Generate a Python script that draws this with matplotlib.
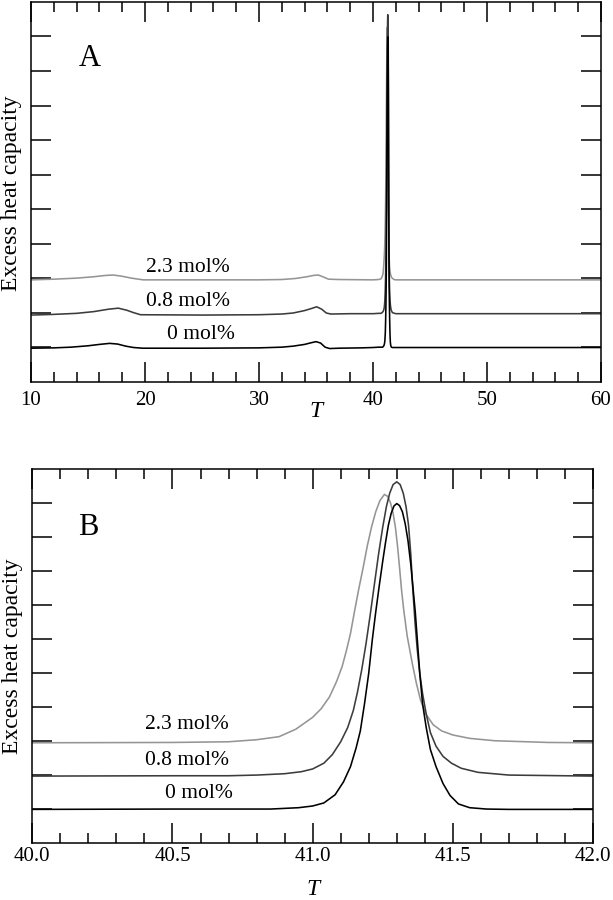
import matplotlib
matplotlib.use("Agg")
import matplotlib.pyplot as plt
from matplotlib.ticker import MultipleLocator

plt.rcParams['font.family'] = ['Liberation Serif', 'DejaVu Serif']

# ---- data (T, excess heat capacity in offset units) ----
T_0 = [10.0, 12.0, 13.5, 15.0, 16.0, 16.9, 17.6, 18.3, 19.0, 19.8, 25.0, 30.0,
       32.0, 33.0, 34.0, 34.6, 35.0, 35.4, 35.8, 36.2, 37.0, 39.0,
       40.0, 40.5, 40.85, 40.95, 41.0, 41.04, 41.08, 41.11, 41.135, 41.155,
       41.17, 41.185, 41.2, 41.213, 41.225, 41.238, 41.25, 41.26, 41.27, 41.28,
       41.29, 41.3, 41.31, 41.32, 41.33, 41.34, 41.35, 41.358, 41.366, 41.374,
       41.382, 41.392, 41.405, 41.42, 41.44, 41.465, 41.49, 41.52, 41.56, 41.62,
       41.7, 42.0, 45.0, 50.0, 55.0, 60.0]
C_0 = [0.97, 0.98, 1.0, 1.04, 1.08, 1.11, 1.09, 1.03, 0.99, 0.97, 0.97, 0.98,
       1.0, 1.03, 1.08, 1.13, 1.16, 1.12, 1.0, 0.96, 0.97, 0.98,
       0.99, 1.0, 1.0, 1.04, 1.09, 1.18, 1.42, 1.8, 2.25, 2.8,
       3.3, 4.1, 5.0, 6.0, 6.8, 7.6, 8.3, 8.85, 9.35, 9.7,
       9.92, 9.99, 9.93, 9.75, 9.4, 8.9, 8.2, 7.5, 6.8, 5.9,
       5.0, 4.1, 3.4, 2.75, 2.25, 1.75, 1.4, 1.15, 1.04, 1.0,
       0.99, 0.99, 0.99, 0.99, 0.99, 0.99]

T_08 = [10.0, 12.0, 14.0, 15.5, 16.8, 17.66, 18.4, 19.0, 19.6, 25.0, 30.0,
        32.0, 33.0, 34.0, 34.6, 35.06, 35.5, 35.9, 36.3, 38.0,
        40.0, 40.5, 40.7, 40.8, 40.9, 40.96, 41.0, 41.04, 41.07, 41.1, 41.125,
        41.145, 41.16, 41.175, 41.19, 41.205, 41.22, 41.235, 41.25, 41.263,
        41.275, 41.287, 41.3, 41.312, 41.323, 41.333, 41.342, 41.35, 41.357,
        41.365, 41.373, 41.382, 41.392, 41.405, 41.42, 41.44, 41.465, 41.495,
        41.53, 41.59, 41.7, 42.0, 45.0, 50.0, 55.0, 60.0]
C_08 = [1.93, 1.95, 1.98, 2.03, 2.1, 2.13, 2.07, 2.0, 1.94, 1.93, 1.94,
        1.96, 1.99, 2.06, 2.12, 2.17, 2.1, 1.99, 1.96, 1.97,
        1.97, 1.98, 1.98, 2.0, 2.04, 2.1, 2.18, 2.35, 2.6, 2.98, 3.4,
        3.9, 4.45, 5.1, 5.85, 6.7, 7.6, 8.5, 9.3, 9.9,
        10.3, 10.55, 10.63, 10.55, 10.3, 9.9, 9.35, 8.5, 7.5,
        6.5, 5.7, 5.0, 4.4, 3.8, 3.25, 2.85, 2.55, 2.35,
        2.2, 2.08, 2.0, 1.97, 1.97, 1.97, 1.97, 1.97]

T_23 = [10.0, 12.0, 14.0, 15.5, 16.6, 17.2, 17.9, 18.8, 19.85, 25.0, 30.0,
        32.0, 33.2, 34.2, 34.8, 35.2, 35.6, 36.1, 37.0,
        40.0, 40.5, 40.7, 40.8, 40.88, 40.94, 41.0, 41.03, 41.06, 41.085,
        41.105, 41.12, 41.135, 41.15, 41.165, 41.18, 41.195, 41.21, 41.225,
        41.24, 41.256, 41.268, 41.278, 41.287, 41.295, 41.302, 41.31, 41.317,
        41.325, 41.337, 41.355, 41.37, 41.385, 41.405, 41.43, 41.46, 41.5,
        41.56, 41.65, 41.84, 42.0, 45.0, 50.0, 55.0, 60.0]
C_23 = [2.95, 2.97, 3.0, 3.04, 3.08, 3.09, 3.06, 3.0, 2.95, 2.95, 2.95,
        2.96, 2.99, 3.04, 3.08, 3.09, 3.04, 2.97, 2.96,
        2.95, 2.96, 2.98, 3.04, 3.13, 3.35, 3.7, 3.95, 4.3, 4.75,
        5.19, 5.65, 6.17, 6.85, 7.5, 8.1, 8.75, 9.3, 9.75,
        10.08, 10.26, 10.2, 10.0, 9.7, 9.3, 8.8, 8.1, 7.45,
        6.85, 6.1, 5.3, 4.7, 4.2, 3.78, 3.48, 3.3, 3.18,
        3.08, 3.01, 2.96, 2.95, 2.95, 2.95, 2.95, 2.95]

labels = ['0 mol%', '0.8 mol%', '2.3 mol%']
colors = ['#000000', '#3c3c3c', '#959595']
series = [(T_0, C_0), (T_08, C_08), (T_23, C_23)]

ticksA = [10, 20, 30, 40, 50, 60]
ticksB = [40.0, 40.5, 41.0, 41.5, 42.0]

fig = plt.figure(figsize=(6.13, 9.0), dpi=100)
axA = fig.add_axes([0.0506, 0.5759, 0.9298, 0.4219])
axB = fig.add_axes([0.0527, 0.0633, 0.9147, 0.4153])

def style(ax, major, minor, xlim, ticks, fmt, labpad):
    ax.set_xlim(*xlim)
    ax.set_ylim(0, 11)
    ax.xaxis.set_major_locator(MultipleLocator(major))
    ax.xaxis.set_minor_locator(MultipleLocator(minor))
    ax.set_xticks(ticks)
    ax.set_xticklabels([fmt.format(t) for t in ticks])
    ax.set_yticks(range(1, 11))
    ax.set_yticklabels([])
    ax.tick_params(which='major', direction='in', length=14.4, width=1.1,
                   top=True, right=True, labelsize=15, pad=labpad)
    ax.tick_params(which='minor', direction='in', length=7.0, width=1.1,
                   top=True, right=True)
    ax.tick_params(axis='y', which='minor', left=False, right=False)
    for s in ax.spines.values():
        s.set_linewidth(1.1)
    ax.set_ylabel('Excess heat capacity', fontsize=17)
    ax.set_xlabel('T', fontsize=17, fontstyle='italic')

style(axA, 10, 2, (10, 60), ticksA, '{:d}', 7)
style(axB, 0.5, 0.1, (40, 42), ticksB, '{:.1f}', 3)

for ax in (axA, axB):
    for (t, c), col in zip(series[::-1], colors[::-1]):
        ax.plot(t, c, color=col, lw=1.15, solid_joinstyle='round')

axA.yaxis.set_label_coords(-0.016, 0.496)
axB.yaxis.set_label_coords(-0.017, 0.499)
axA.xaxis.set_label_coords(0.5, -0.052)
axB.xaxis.set_label_coords(0.5, -0.097)

# curve labels
axA.text(23.8, 3.32, '2.3 mol%', fontsize=15.5, ha='center', va='center')
axA.text(23.8, 2.31, '0.8 mol%', fontsize=15.5, ha='center', va='center')
axA.text(24.9, 1.38, '0 mol%', fontsize=15.5, ha='center', va='center')
axB.text(40.551, 3.5, '2.3 mol%', fontsize=15.5, ha='center', va='center')
axB.text(40.551, 2.42, '0.8 mol%', fontsize=15.5, ha='center', va='center')
axB.text(40.595, 1.46, '0 mol%', fontsize=15.5, ha='center', va='center')

axA.text(0.103, 0.85, 'A', transform=axA.transAxes, fontsize=22, ha='center', va='center')
axB.text(0.100, 0.845, 'B', transform=axB.transAxes, fontsize=22, ha='center', va='center')

fig.savefig('out.png', dpi=100)
